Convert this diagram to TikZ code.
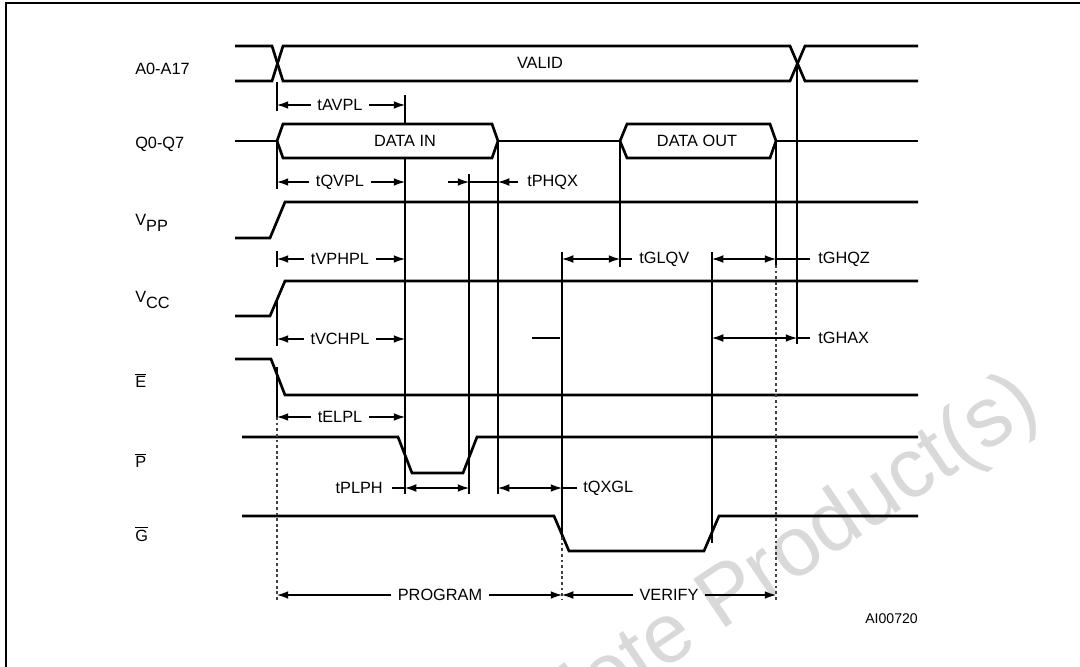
\documentclass[tikz,border=0pt]{standalone}
\usepackage{fontspec}
\setmainfont{Liberation Sans}
\usetikzlibrary{arrows.meta}

\tikzset{
  sig/.style={line width=1.9pt},
  guide/.style={line width=0.75pt},
  dots/.style={line width=0.75pt, black!75, dash pattern=on 2pt off 2pt},
  dim/.style={guide, {Latex[length=8pt,width=5.5pt]}-{Latex[length=8pt,width=5.5pt]}},
  tip/.style={guide, -{Latex[length=8pt,width=5.5pt]}},
  lbl/.style={font=\fontsize{11.6}{13}\selectfont, inner sep=0pt},
  gap/.style={lbl, inner xsep=4.5pt},
}
\newcommand{\ovbar}[1]{$\overline{\hbox{#1}}$}

\begin{document}
\begin{tikzpicture}[x=0.25mm, y=-0.25mm]
    \useasboundingbox (0,0) rectangle (1080,666);
    % Watermark and frame
    \begin{scope}
        \clip (0,0) rectangle (1080,666);
        \node[rotate=34, text=black!15, anchor=base east, inner sep=0pt,
              font=\fontsize{60}{60}\selectfont] (stamp) at (1043,414) {Obsolete Product(s)};
        \draw[line width=1.4pt] (6,700) -- (6,3) -- (1100,3);
    \end{scope}
    % Signal names
    \node[lbl, anchor=base west] (nA) at (135,74) {A0-A17};
    \node[lbl, anchor=base west] (nQ) at (135,148) {Q0-Q7};
    \node[lbl, anchor=base west] (nVpp) at (135,225) {V\raisebox{-4.3pt}{PP}};
    \node[lbl, anchor=base west] (nVcc) at (135,302) {V\raisebox{-4.3pt}{CC}};
    \node[lbl, anchor=base west] (nE) at (135,387) {\ovbar{E}};
    \node[lbl, anchor=base west] (nP) at (135,467) {\ovbar{P}};
    \node[lbl, anchor=base west] (nG) at (135,541) {\ovbar{G}};
    % Address bus
    \draw[sig] (235,46) -- (272,46) -- (283,81) -- (790,81) -- (805,46) -- (918,46);
    \draw[sig] (235,81) -- (272,81) -- (283,46) -- (790,46) -- (805,81) -- (918,81);
    \node[lbl] (valid) at (540,63) {VALID};
    % Data bus
    \draw[sig] (235,141) -- (277,141);
    \draw[sig] (277,141) -- (283,124) -- (492,124) -- (498,141) -- (492,158) -- (283,158) -- cycle;
    \draw[sig] (498,141) -- (620,141);
    \draw[sig] (620,141) -- (627,124) -- (770,124) -- (776,141) -- (770,158) -- (627,158) -- cycle;
    \draw[sig] (776,141) -- (918,141);
    \node[lbl] (din) at (405,141) {DATA IN};
    \node[lbl] (dout) at (697,141) {DATA OUT};
    % Supplies and controls
    \draw[sig] (235,238) -- (270,238) -- (285,202) -- (918,202);
    \draw[sig] (235,316) -- (270,316) -- (285,281) -- (918,281);
    \draw[sig] (235,359) -- (271,359) -- (285,395) -- (918,395);
    \draw[sig] (242,437) -- (398,437) -- (412,473) -- (463,473) -- (477,437) -- (918,437);
    \draw[sig] (242,516) -- (554,516) -- (569,551) -- (704,551) -- (719,516) -- (918,516);
    % Reference lines
    \draw[guide] (277,82) -- (277,111);
    \draw[guide] (277,141) -- (277,189);
    \draw[guide] (277,251) -- (277,267);
    \draw[guide] (277,298) -- (277,346);
    \draw[guide] (277,367) -- (277,417);
    \draw[dots] (277,417) -- (277,602);
    \draw[guide] (405,95) -- (405,124);
    \draw[guide] (405,158) -- (405,494);
    \draw[guide] (469,174) -- (469,494);
    \draw[guide] (498,141) -- (498,494);
    \draw[guide] (562,252) -- (562,537);
    \draw[dots] (562,537) -- (562,600);
    \draw[guide] (620,141) -- (620,267);
    \draw[guide] (712,252) -- (712,543);
    \draw[guide] (776,141) -- (776,265);
    \draw[dots] (776,265) -- (776,600);
    \draw[guide] (797,64) -- (797,344);
    \draw[guide] (532,338) -- (560,338);
    % Set-up times
    \node[gap] (tavpl) at (340,105) {tAVPL};
    \draw[tip] (tavpl.west) -- (277,105);
    \draw[tip] (tavpl.east) -- (405,105);
    \node[gap] (tqvpl) at (340,182) {tQVPL};
    \draw[tip] (tqvpl.west) -- (277,182);
    \draw[tip] (tqvpl.east) -- (405,182);
    \node[gap] (tvphpl) at (340,259) {tVPHPL};
    \draw[tip] (tvphpl.west) -- (277,259);
    \draw[tip] (tvphpl.east) -- (405,259);
    \node[gap] (tvchpl) at (340,339) {tVCHPL};
    \draw[tip] (tvchpl.west) -- (277,339);
    \draw[tip] (tvchpl.east) -- (405,339);
    \node[gap] (telpl) at (340,417) {tELPL};
    \draw[tip] (telpl.west) -- (277,417);
    \draw[tip] (telpl.east) -- (405,417);
    % Hold and access times
    \draw[tip] (448,182) -- (469,182);
    \draw[guide] (469,182) -- (498,182);
    \draw[tip] (518,182) -- (498,182);
    \node[lbl, anchor=west] (tphqx) at (527,182) {tPHQX};
    \node[lbl, anchor=east] (tplph) at (383,488) {tPLPH};
    \draw[guide] (392,488) -- (405,488);
    \draw[dim] (405,488) -- (469,488);
    \draw[dim] (498,488) -- (562,488);
    \draw[guide] (562,488) -- (577,488);
    \node[lbl, anchor=west] (tqxgl) at (583,488) {tQXGL};
    \draw[dim] (562,259) -- (620,259);
    \draw[guide] (620,259) -- (632,259);
    \node[lbl, anchor=west] (tglqv) at (639,259) {tGLQV};
    \draw[dim] (712,259) -- (776,259);
    \draw[guide] (776,259) -- (810,259);
    \node[lbl, anchor=west] (tghqz) at (818,259) {tGHQZ};
    \draw[dim] (712,338) -- (797,338);
    \draw[guide] (797,338) -- (810,338);
    \node[lbl, anchor=west] (tghax) at (818,338) {tGHAX};
    % Phases
    \node[gap] (prog) at (440,595) {PROGRAM};
    \draw[tip] (prog.west) -- (277,595);
    \draw[tip] (prog.east) -- (562,595);
    \node[gap] (verify) at (669,595) {VERIFY};
    \draw[tip] (verify.west) -- (562,595);
    \draw[tip] (verify.east) -- (776,595);
    % Figure code
    \node[font=\fontsize{10}{12}\selectfont, anchor=base east, inner sep=0pt] (fig) at (918,623) {AI00720};
\end{tikzpicture}
\end{document}
